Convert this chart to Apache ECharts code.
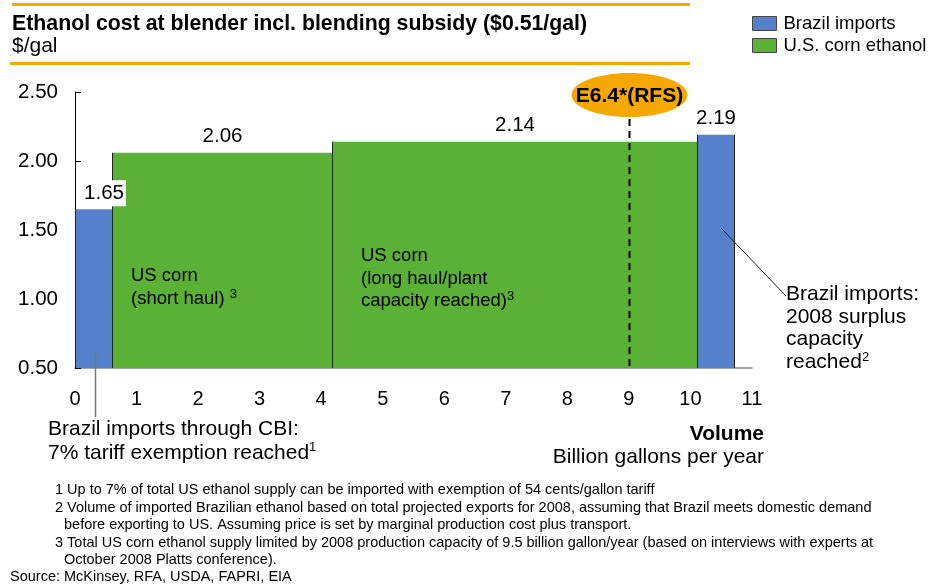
<!DOCTYPE html>
<html><head><meta charset="utf-8">
<script src="https://cdn.jsdelivr.net/npm/echarts@6/dist/echarts.min.js"></script>
<style>html,body{margin:0;padding:0;background:#fff}#c{width:930px;height:585px}</style>
</head><body><div id="c"></div>
<script>
// ---- data ----
const seriesNames = ['Brazil imports', 'U.S. corn ethanol'];
const brazilStart = [0, 10.1];
const brazilEnd = [0.6, 10.7];
const brazilCost = [1.65, 2.19];
const cornStart = [0.6, 4.18];
const cornEnd = [4.18, 10.1];
const cornCost = [2.06, 2.14];
const rfsVolume = [9];
const rfsLabel = 'E6.4*(RFS)';
const yMin = 0.5, yMax = 2.5, yStep = 0.5;
const xMin = 0, xMax = 11, xStep = 1;

// ---- styles ----
const BLUE = '#5680CB', GREEN = '#5BB036', ORANGE = '#F5A800';
const FONT = 'Liberation Sans, Arial, sans-serif';
const brazilLabelShift = [10, 0];

function makeBarRenderer(color, shifts) {
  return function (params, api) {
    const s = api.value(0), e = api.value(1), v = api.value(2);
    const p0 = api.coord([s, v]);
    const p1 = api.coord([e, yMin]);
    const x0 = Math.round(p0[0]) + 0.5, x1 = Math.round(p1[0]) + 0.5;
    const yTop = p0[1], yBot = p1[1];
    const dx = shifts[params.dataIndex] || 0;
    return {
      type: 'group',
      children: [
        { type: 'rect', shape: { x: x0, y: yTop, width: x1 - x0, height: yBot - yTop }, style: { fill: color } },
        { type: 'line', shape: { x1: x0, y1: yTop, x2: x0, y2: yBot }, style: { stroke: '#1b2a14', lineWidth: 1 } },
        { type: 'line', shape: { x1: x1, y1: yTop, x2: x1, y2: yBot }, style: { stroke: '#1b2a14', lineWidth: 1 } },
        { type: 'text', z2: 10, style: { text: v.toFixed(2), x: (x0 + x1) / 2 + dx, y: yTop - 16, align: 'center', verticalAlign: 'middle',
          fontSize: 20.5, fontFamily: FONT, fill: '#000', backgroundColor: '#fff', padding: [3, 2, 2, 2] } }
      ]
    };
  };
}

function renderRfs(params, api) {
  const x = api.value(0);
  const pb = api.coord([x, yMin]);
  const pt = api.coord([x, yMax]);
  const cx = Math.round(pb[0]) + 0.5;
  const cy = pt[1] + 3;
  return {
    type: 'group',
    children: [
      { type: 'line', shape: { x1: cx, y1: cy, x2: cx, y2: pb[1] }, style: { stroke: '#000', lineWidth: 2, lineDash: [7, 5] } },
      { type: 'ellipse', shape: { cx: cx, cy: cy, rx: 58, ry: 22 }, style: { fill: ORANGE } },
      { type: 'text', style: { text: rfsLabel, x: cx, y: cy + 1, align: 'center', verticalAlign: 'middle', fontSize: 21, fontWeight: 'bold', fontFamily: FONT, fill: '#000' } }
    ]
  };
}

const brazilData = brazilStart.map((s, i) => [s, brazilEnd[i], brazilCost[i]]);
const cornData = cornStart.map((s, i) => [s, cornEnd[i], cornCost[i]]);

const sup = { fontSize: 13, fontFamily: FONT, fill: '#000', verticalAlign: 'top', padding: [0, 0, 9, 0] };
const footStyle = { fontSize: 14.5, fontFamily: 'Liberation Sans, Arial, sans-serif', fill: '#000' };

const chart = echarts.init(document.getElementById('c'), null, { renderer: 'canvas' });
chart.setOption({
  backgroundColor: '#fff',
  animation: false,
  grid: { left: 75, right: 178, top: 92, bottom: 217, containLabel: false },
  legend: {
    orient: 'vertical', left: 752, top: 14, padding: 0, itemWidth: 24, itemHeight: 14, itemGap: 3, icon: 'rect',
    itemStyle: { borderColor: '#444', borderWidth: 1 },
    textStyle: { fontSize: 18.5, fontFamily: FONT, color: '#000', padding: [0, 0, 0, 2] },
    data: seriesNames
  },
  xAxis: {
    type: 'value', min: xMin, max: xMax, interval: xStep,
    axisLine: { show: true, lineStyle: { color: '#888', width: 1.5 } },
    axisTick: { show: false }, splitLine: { show: false },
    axisLabel: { fontSize: 20, fontFamily: FONT, color: '#000', margin: 21 }
  },
  yAxis: {
    type: 'value', min: yMin, max: yMax, interval: yStep,
    axisLine: { show: true, lineStyle: { color: '#000', width: 1 } },
    axisTick: { show: true, inside: true, length: 6, lineStyle: { color: '#000' } },
    splitLine: { show: false },
    axisLabel: { fontSize: 20.5, fontFamily: FONT, color: '#000', margin: 17, formatter: v => v.toFixed(2) }
  },
  series: [
    { name: seriesNames[0], type: 'custom', z: 4, clip: false, itemStyle: { color: BLUE }, renderItem: makeBarRenderer(BLUE, brazilLabelShift), data: brazilData, encode: { x: [0, 1], y: 2 } },
    { name: seriesNames[1], type: 'custom', z: 2, clip: false, itemStyle: { color: GREEN }, renderItem: makeBarRenderer(GREEN, []), data: cornData, encode: { x: [0, 1], y: 2 } },
    { name: 'RFS', type: 'custom', z: 5, clip: false, renderItem: renderRfs, data: rfsVolume.map(v => [v]), encode: { x: 0 } }
  ],
  graphic: [
    { type: 'rect', shape: { x: 12, y: 3, width: 678, height: 3 }, style: { fill: ORANGE } },
    { type: 'rect', shape: { x: 10, y: 62, width: 680, height: 3 }, style: { fill: ORANGE } },
    { type: 'text', style: { text: 'Ethanol cost at blender incl. blending subsidy ($0.51/gal)', x: 12, y: 24, verticalAlign: 'middle', fontSize: 21.3, fontWeight: 'bold', fontFamily: FONT, fill: '#000' } },
    { type: 'text', style: { text: '$/gal', x: 12, y: 46, verticalAlign: 'middle', fontSize: 21, fontFamily: FONT, fill: '#000' } },
    { type: 'text', z: 10, style: { text: 'US corn\n(short haul) {s|3}', x: 131, y: 265, verticalAlign: 'top', fontSize: 18.5, lineHeight: 22.5, fontFamily: FONT, fill: '#000', rich: { s: sup } } },
    { type: 'text', z: 10, style: { text: 'US corn\n(long haul/plant\ncapacity reached){s|3}', x: 361, y: 245, verticalAlign: 'top', fontSize: 18.5, lineHeight: 22.5, fontFamily: FONT, fill: '#000', rich: { s: sup } } },
    { type: 'line', z: 10, shape: { x1: 95.5, y1: 351, x2: 95.5, y2: 417 }, style: { stroke: '#777', lineWidth: 1.5 } },
    { type: 'text', style: { text: 'Brazil imports through CBI:\n7% tariff exemption reached{s|1}', x: 48, y: 417, verticalAlign: 'top', fontSize: 21, lineHeight: 24, fontFamily: FONT, fill: '#000', rich: { s: sup } } },
    { type: 'line', z: 10, shape: { x1: 721, y1: 228, x2: 786, y2: 296 }, style: { stroke: '#222', lineWidth: 1 } },
    { type: 'text', style: { text: 'Brazil imports:\n2008 surplus\ncapacity\nreached{s|2}', x: 786, y: 283, verticalAlign: 'top', fontSize: 21, lineHeight: 22.5, fontFamily: FONT, fill: '#000', rich: { s: sup } } },
    { type: 'text', style: { text: 'Volume', x: 764, y: 434, align: 'right', verticalAlign: 'middle', fontSize: 21, fontWeight: 'bold', fontFamily: FONT, fill: '#000' } },
    { type: 'text', style: { text: 'Billion gallons per year', x: 764, y: 457, align: 'right', verticalAlign: 'middle', fontSize: 21, fontFamily: FONT, fill: '#000' } },
    { type: 'text', style: Object.assign({ text: '1 Up to 7% of total US ethanol supply can be imported with exemption of 54 cents/gallon tariff', x: 55, y: 490, verticalAlign: 'middle' }, footStyle) },
    { type: 'text', style: Object.assign({ text: '2 Volume of imported Brazilian ethanol based on total projected exports for 2008, assuming that Brazil meets domestic demand', x: 55, y: 508, verticalAlign: 'middle' }, footStyle) },
    { type: 'text', style: Object.assign({ text: 'before exporting to US. Assuming price is set by marginal production cost plus transport.', x: 64, y: 525, verticalAlign: 'middle' }, footStyle) },
    { type: 'text', style: Object.assign({ text: '3 Total US corn ethanol supply limited by 2008 production capacity of 9.5 billion gallon/year (based on interviews with experts at', x: 55, y: 543, verticalAlign: 'middle' }, footStyle) },
    { type: 'text', style: Object.assign({ text: 'October 2008 Platts conference).', x: 64, y: 560, verticalAlign: 'middle' }, footStyle) },
    { type: 'text', style: Object.assign({ text: 'Source: McKinsey, RFA, USDA, FAPRI, EIA', x: 10, y: 577, verticalAlign: 'middle' }, footStyle) }
  ]
});
</script></body></html>
